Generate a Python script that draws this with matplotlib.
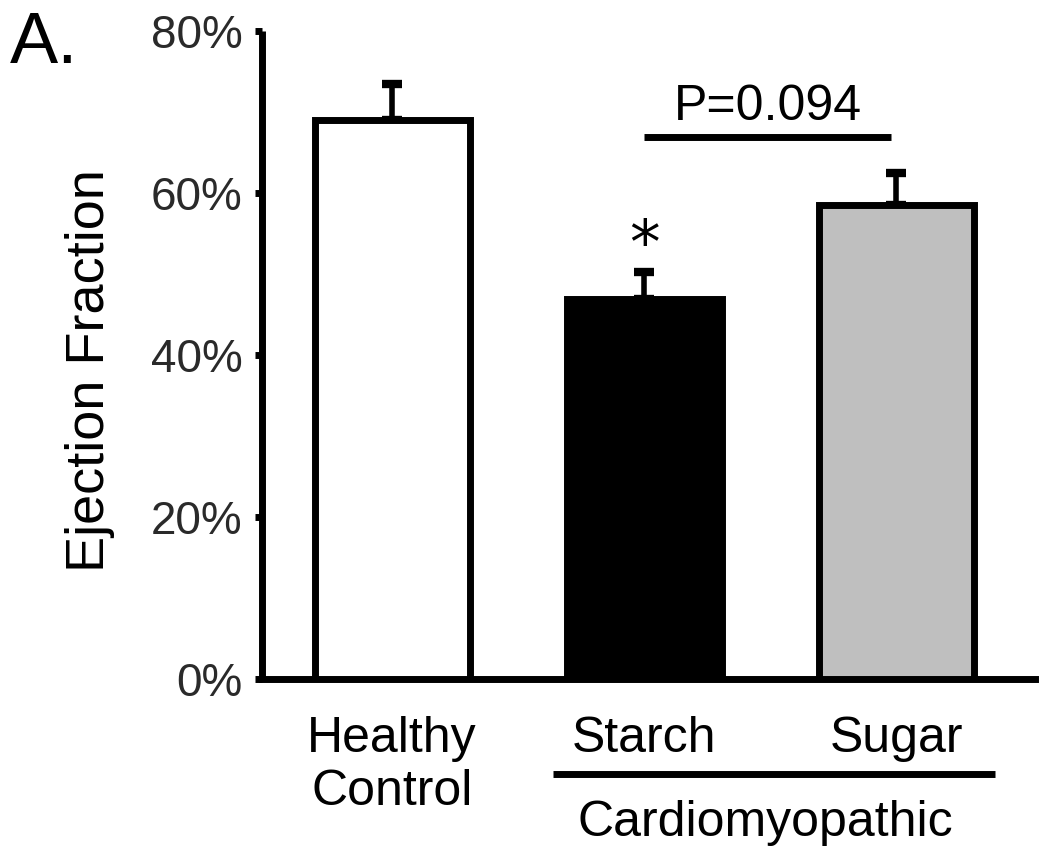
import matplotlib
matplotlib.use("Agg")
import matplotlib.pyplot as plt
import numpy as np

categories = ["Healthy\nControl", "Starch", "Sugar"]
values = [69.0, 46.9, 58.5]
errors = [4.4, 3.3, 4.0]
colors = ["white", "black", "#bfbfbf"]
yticks = [0, 20, 40, 60, 80]
ytick_labels = ["0%", "20%", "40%", "60%", "80%"]
p_text = "P=0.094"
group_label = "Cardiomyopathic"

plt.rcParams['font.family'] = ['Liberation Sans', 'DejaVu Sans']

fig = plt.figure(figsize=(10.5, 8.55), dpi=100)
ax = fig.add_axes([262/1050, 1-679/855, (1035-262)/1050, (679-31)/855])

x = np.arange(len(categories))
lw = 5.0
ax.bar(x, values, width=0.615, color=colors, edgecolor="black", linewidth=lw, zorder=3)
ax.errorbar(x, values, yerr=[np.zeros(len(errors)), errors], fmt="none", ecolor="black",
            elinewidth=4, capsize=7, capthick=6, zorder=2)

ax.set_xlim(-0.516, 2.55)
ax.set_ylim(0, 80)
ax.set_yticks(yticks)
ax.set_yticklabels(ytick_labels, fontsize=33, color="#2a2a2a")
ax.set_xticks([])
for s in ["top", "right"]:
    ax.spines[s].set_visible(False)
ax.spines["left"].set_linewidth(5)
ax.spines["bottom"].set_linewidth(5)
ax.spines["left"].set_capstyle("butt")
ax.tick_params(axis="y", direction="out", length=5, width=5, pad=9)
ax.set_ylabel("Ejection Fraction", fontsize=39)
ax.yaxis.set_label_coords(-0.19, 0.476)

# category labels
for xi, lab in zip(x, categories):
    ax.text(xi, -4.6, lab, ha="center", va="top", fontsize=36, linespacing=1.2)

# group line under starch/sugar
ax.plot([0.64, 2.39], [-11.7, -11.7], color="black", lw=5, clip_on=False, solid_capstyle="butt")
ax.text(1.48, -14.9, group_label, ha="center", va="top", fontsize=36)

# significance
ax.plot([1.0, 1.98], [66.9, 66.9], color="black", lw=5, solid_capstyle="butt", clip_on=False)
ax.text(1.49, 69.0, p_text, ha="center", va="baseline", fontsize=36)
ax.text(1.0, 53.4, "*", ha="center", va="center", fontsize=44, family="DejaVu Sans")

fig.text(10/1050, 1-63/855, "A.", fontsize=52, ha="left", va="baseline")

fig.savefig("out.png", dpi=100)
